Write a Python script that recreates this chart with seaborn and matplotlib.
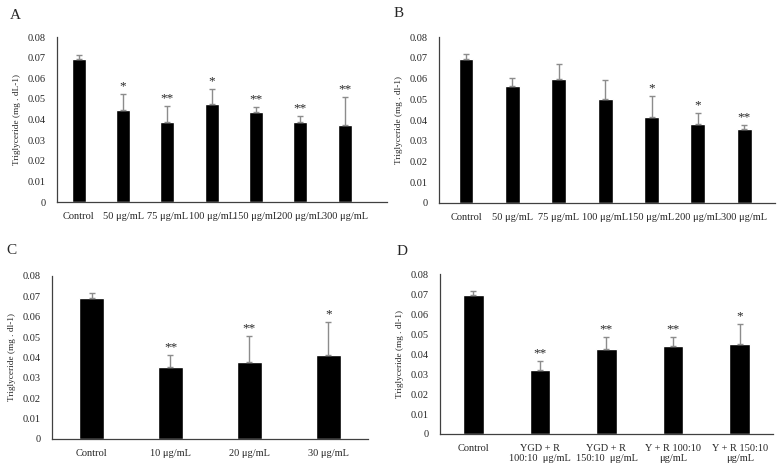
import seaborn as sns
import matplotlib.pyplot as plt
import pandas as pd

# Panel A
cats_a = ['Control', '50 μg/mL', '75 μg/mL', '100 μg/mL', '150 μg/mL', '200 μg/mL', '300 μg/mL']
vals_a = [0.0693, 0.0447, 0.0388, 0.0475, 0.0436, 0.0388, 0.0375]
errs_a = [0.0021, 0.0076, 0.0077, 0.0074, 0.0023, 0.0027, 0.0134]
stars_a = ['', '*', '**', '*', '**', '**', '**']

# Panel B
cats_b = ['Control', '50 μg/mL', '75 μg/mL', '100 μg/mL', '150 μg/mL', '200 μg/mL', '300 μg/mL']
vals_b = [0.0696, 0.0562, 0.0598, 0.0503, 0.0414, 0.0379, 0.0355]
errs_b = [0.0022, 0.0039, 0.0072, 0.0091, 0.0100, 0.0053, 0.0022]
stars_b = ['', '', '', '', '*', '*', '**']

# Panel C
cats_c = ['Control', '10 μg/mL', '20 μg/mL', '30 μg/mL']
vals_c = [0.0692, 0.0355, 0.0378, 0.0414]
errs_c = [0.0025, 0.0056, 0.0128, 0.0160]
stars_c = ['', '**', '**', '*']

# Panel D
cats_d = ['Control', 'YGD + R\n100:10  μg/mL', 'YGD + R\n150:10  μg/mL',
          'Y + R 100:10\nμg/mL', 'Y + R 150:10\nμg/mL']
vals_d = [0.0696, 0.0319, 0.0427, 0.0439, 0.0452]
errs_d = [0.0022, 0.0045, 0.0057, 0.0045, 0.0099]
stars_d = ['', '**', '**', '**', '*']

sns.set_style('white')
plt.rcParams['font.family'] = ['Liberation Serif', 'DejaVu Serif']

fig = plt.figure(figsize=(7.8, 4.66), dpi=100)

panels = [
    ('A', cats_a, vals_a, errs_a, stars_a, [0.073, 0.5665, 0.423, 0.354], (-0.49, 6.95), 0.32,
     'Triglyceride (mg . dL-1)', (0.013, 0.967)),
    ('B', cats_b, vals_b, errs_b, stars_b, [0.563, 0.5644, 0.431, 0.356], (-0.58, 6.67), 0.32,
     'Triglyceride (mg . dl-1)', (0.505, 0.972)),
    ('C', cats_c, vals_c, errs_c, stars_c, [0.0667, 0.058, 0.405, 0.35], (-0.5, 3.5), 0.31,
     'Triglyceride (mg . dl-1)', (0.008, 0.463)),
    ('D', cats_d, vals_d, errs_d, stars_d, [0.564, 0.0687, 0.427, 0.343], (-0.5, 4.5), 0.31,
     'Triglyceride (mg . dl-1)', (0.508, 0.461)),
]

for letter, cats, vals, errs, stars, pos, xlim, width, ylabel, lpos in panels:
    ax = fig.add_axes(pos)
    df = pd.DataFrame({'group': cats, 'value': vals})
    sns.barplot(data=df, x='group', y='value', color='black', width=width,
                saturation=1, errorbar=None, ax=ax)
    x = list(range(len(cats)))
    ax.errorbar(x, vals, yerr=[[0] * len(errs), errs], fmt='none',
                ecolor='#8c8c8c', elinewidth=1, capsize=2.5, capthick=1)
    for xi, v, e, s in zip(x, vals, errs, stars):
        if s:
            ax.text(xi, v + e + 0.0008, s, ha='center', va='bottom', fontsize=9.5)
    ax.set_ylim(0, 0.08)
    ax.set_xlim(*xlim)
    ax.set_yticks([0, 0.01, 0.02, 0.03, 0.04, 0.05, 0.06, 0.07, 0.08])
    ax.set_yticklabels(['0', '0.01', '0.02', '0.03', '0.04', '0.05', '0.06', '0.07', '0.08'])
    ax.tick_params(axis='y', length=0, labelsize=7.5, pad=8)
    ax.tick_params(axis='x', length=0, labelsize=7.5, pad=7)
    ax.set_xlabel('')
    ax.set_ylabel(ylabel, fontsize=6.7, labelpad=5)
    sns.despine(ax=ax)
    for sp in ['left', 'bottom']:
        ax.spines[sp].set_color('#404040')
        ax.spines[sp].set_linewidth(0.9)
    fig.text(lpos[0], lpos[1], letter, fontsize=11, ha='left', va='center')

plt.savefig('out.png', dpi=100)
